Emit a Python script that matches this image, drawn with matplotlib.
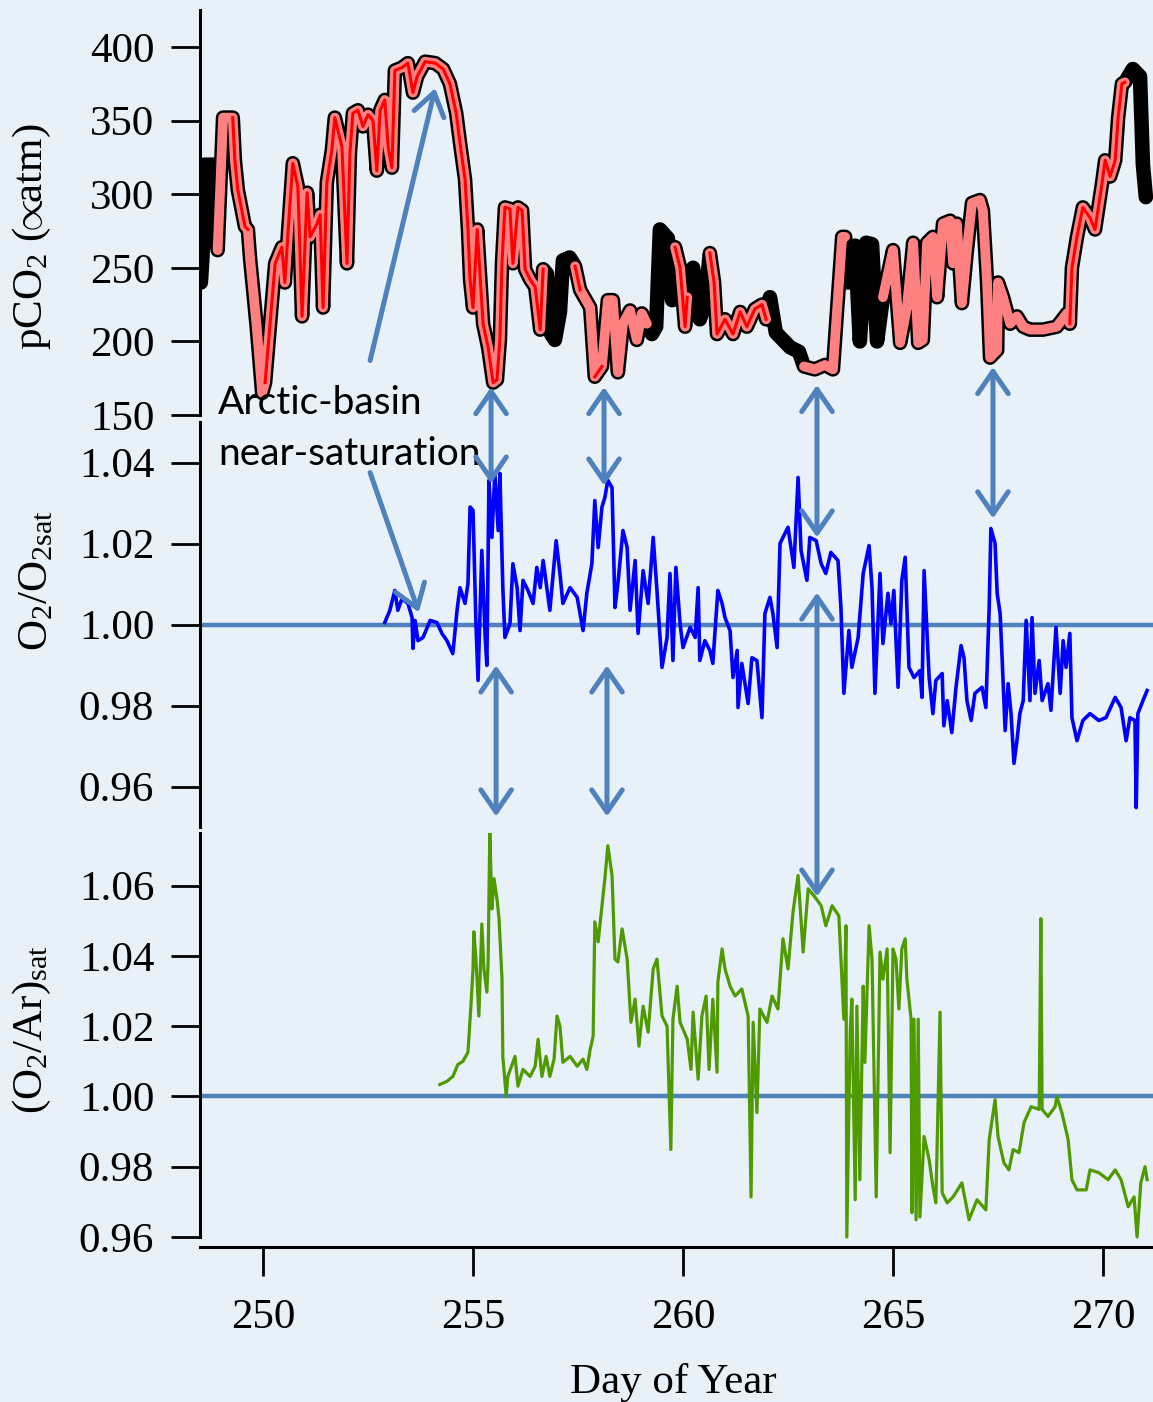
import numpy as np
import matplotlib
matplotlib.use("Agg")
import matplotlib.pyplot as plt
from matplotlib.patches import ConnectionPatch

plt.rcParams["mathtext.fontset"] = "custom"
plt.rcParams["mathtext.rm"] = "Liberation Serif"
plt.rcParams["mathtext.it"] = "Liberation Serif:italic"
plt.rcParams["mathtext.bf"] = "Liberation Serif:bold"

SERIF = ["Liberation Serif", "DejaVu Serif"]
SANS = ["Lato", "DejaVu Sans"]

# ---------------- data ----------------
# underway pCO2 record (uatm) versus day of year
pco2_day = [
    248.52, 248.56, 248.60, 248.88, 248.92, 249.00, 249.05, 249.28, 249.33, 249.40,
    249.57, 249.64, 249.69, 249.85, 249.98, 250.05, 250.29, 250.45, 250.52, 250.60,
    250.71, 250.83, 250.93, 251.05, 251.12, 251.29, 251.36, 251.43, 251.52, 251.64,
    251.71, 251.88, 252.00, 252.07, 252.14, 252.26, 252.38, 252.50, 252.62, 252.71,
    252.79, 252.90, 252.98, 253.07, 253.14, 253.31, 253.45, 253.57, 253.67, 253.86,
    254.10, 254.29, 254.45, 254.60, 254.69, 254.81, 254.88, 254.93, 255.00, 255.10,
    255.17, 255.24, 255.36, 255.48, 255.57, 255.64, 255.69, 255.76, 255.88, 255.95,
    256.07, 256.17, 256.24, 256.36, 256.48, 256.60, 256.67, 256.76, 256.86, 256.95,
    257.07, 257.14, 257.30, 257.43, 257.55, 257.79, 257.90, 258.07, 258.21, 258.33,
    258.45, 258.57, 258.74, 258.90, 259.02, 259.14, 259.26, 259.36, 259.45, 259.64,
    259.74, 259.81, 259.93, 260.05, 260.10, 260.24, 260.40, 260.52, 260.64, 260.74,
    260.81, 261.00, 261.19, 261.36, 261.52, 261.71, 261.88, 261.98, 262.07, 262.21,
    262.55, 262.76, 262.88, 263.14, 263.38, 263.57, 263.69, 263.79, 263.86, 263.93,
    264.10, 264.21, 264.36, 264.50, 264.62, 264.76, 265.00, 265.17, 265.33, 265.48,
    265.60, 265.71, 265.81, 265.95, 266.05, 266.19, 266.36, 266.43, 266.52, 266.64,
    266.76, 266.88, 267.07, 267.14, 267.24, 267.31, 267.48, 267.50, 267.62, 267.79,
    267.95, 268.10, 268.26, 268.57, 268.90, 269.14, 269.21, 269.26, 269.38, 269.52,
    269.69, 269.81, 269.98, 270.05, 270.17, 270.29, 270.36, 270.45, 270.52, 270.71,
    270.88, 270.95, 271.02,
]
pco2_val = [
    240, 258, 320, 320, 262, 318, 352, 352, 323, 303,
    278, 276, 257, 210, 165, 172, 253, 264, 240, 276,
    321, 305, 217, 301, 271, 280, 286, 223, 308, 330,
    352, 332, 253, 328, 355, 357, 346, 354, 350, 316,
    357, 364, 332, 318, 384, 386, 389, 369, 380, 390,
    389, 385, 375, 355, 335, 310, 276, 242, 223, 276,
    244, 212, 196, 172, 174, 201, 253, 291, 290, 253,
    291, 289, 249, 242, 237, 208, 249, 246, 205, 201,
    220, 255, 257, 251, 235, 223, 176, 183, 228, 228,
    179, 212, 221, 201, 219, 212, 205, 210, 276, 270,
    228, 264, 250, 210, 230, 250, 215, 225, 260, 240,
    205, 215, 205, 220, 210, 222, 225, 215, 230, 206,
    196, 193, 183, 181, 184, 181, 230, 271, 271, 240,
    265, 200, 267, 266, 200, 230, 262, 199, 223, 267,
    199, 201, 267, 271, 230, 280, 282, 253, 280, 226,
    262, 294, 296, 289, 240, 189, 194, 240, 230, 212,
    217, 210, 208, 208, 210, 219, 212, 250, 271, 291,
    284, 276, 308, 323, 312, 323, 352, 375, 376, 385,
    380, 320, 298,
]
# day ranges drawn as the light-red and red overlays
pink_spans = [(248.90, 256.70), (257.43, 259.15), (259.80, 260.11), (260.60, 262.00),
              (262.85, 263.87), (264.75, 270.53)]
red_spans = [(249.15, 249.66), (250.00, 256.70), (257.43, 257.60), (257.88, 258.10),
             (259.80, 260.11), (260.60, 262.00), (269.20, 270.53)]

# O2 / O2sat
o2_day = [
    252.90, 253.02, 253.14, 253.21, 253.31, 253.45, 253.55, 253.57, 253.62, 253.69,
    253.81, 253.98, 254.14, 254.26, 254.38, 254.52, 254.62, 254.69, 254.81, 254.88,
    254.93, 255.00, 255.07, 255.12, 255.21, 255.29, 255.33, 255.38, 255.45, 255.52,
    255.60, 255.64, 255.71, 255.76, 255.88, 255.95, 256.05, 256.12, 256.19, 256.31,
    256.43, 256.52, 256.60, 256.67, 256.83, 256.98, 257.07, 257.14, 257.31, 257.48,
    257.62, 257.71, 257.83, 257.90, 257.98, 258.07, 258.14, 258.21, 258.31, 258.38,
    258.45, 258.57, 258.67, 258.74, 258.86, 258.93, 259.05, 259.17, 259.29, 259.38,
    259.50, 259.62, 259.69, 259.76, 259.83, 259.93, 260.00, 260.17, 260.29, 260.36,
    260.40, 260.52, 260.64, 260.71, 260.83, 260.93, 261.00, 261.12, 261.19, 261.29,
    261.31, 261.40, 261.55, 261.64, 261.76, 261.88, 261.95, 262.07, 262.14, 262.24,
    262.31, 262.38, 262.50, 262.64, 262.74, 262.81, 262.95, 263.02, 263.17, 263.29,
    263.40, 263.52, 263.69, 263.76, 263.83, 263.95, 264.02, 264.17, 264.29, 264.43,
    264.50, 264.57, 264.69, 264.76, 264.88, 264.95, 265.02, 265.12, 265.21, 265.29,
    265.38, 265.50, 265.64, 265.69, 265.74, 265.86, 265.95, 266.02, 266.17, 266.21,
    266.29, 266.40, 266.50, 266.62, 266.69, 266.76, 266.86, 266.95, 267.12, 267.21,
    267.29, 267.33, 267.43, 267.48, 267.55, 267.60, 267.67, 267.74, 267.81, 267.88,
    267.95, 268.02, 268.10, 268.17, 268.26, 268.31, 268.38, 268.48, 268.55, 268.69,
    268.76, 268.88, 268.98, 269.05, 269.12, 269.21, 269.26, 269.38, 269.52, 269.69,
    269.90, 270.07, 270.29, 270.43, 270.55, 270.64, 270.76, 270.79, 270.83, 270.95,
    271.05,
]
o2_val = [
    1.0005, 1.0035, 1.0084, 1.0035, 1.0064, 1.0052, 1.0017, 0.9941, 1.0010, 0.9960,
    0.9968, 1.0010, 1.0005, 0.9978, 0.9960, 0.9928, 1.0035, 1.0091, 1.0052, 1.0101,
    1.0290, 1.0282, 1.0002, 0.9862, 1.0183, 0.9968, 0.9899, 1.0356, 1.0215, 1.0373,
    1.0232, 1.0373, 1.0091, 0.9968, 1.0002, 1.0150, 1.0091, 0.9985, 1.0109, 1.0084,
    1.0052, 1.0141, 1.0091, 1.0158, 1.0035, 1.0207, 1.0126, 1.0052, 1.0091, 1.0067,
    0.9985, 1.0077, 1.0150, 1.0306, 1.0190, 1.0290, 1.0314, 1.0356, 1.0338, 1.0042,
    1.0101, 1.0232, 1.0190, 1.0035, 1.0158, 0.9978, 1.0133, 1.0052, 1.0215, 1.0084,
    0.9894, 0.9968, 1.0126, 0.9911, 1.0141, 1.0002, 0.9943, 0.9993, 0.9968, 1.0091,
    0.9911, 0.9960, 0.9936, 0.9904, 1.0084, 1.0052, 1.0017, 0.9985, 0.9869, 0.9936,
    0.9795, 0.9904, 0.9805, 0.9918, 0.9911, 0.9770, 1.0027, 1.0067, 1.0027, 0.9943,
    1.0200, 1.0215, 1.0240, 1.0141, 1.0363, 1.0183, 1.0109, 1.0215, 1.0207, 1.0150,
    1.0126, 1.0178, 1.0158, 1.0042, 0.9830, 0.9985, 0.9894, 0.9968, 1.0126, 1.0195,
    1.0091, 0.9830, 1.0126, 0.9953, 1.0077, 1.0002, 1.0084, 0.9845, 1.0109, 1.0166,
    0.9894, 0.9869, 0.9886, 0.9820, 1.0133, 0.9869, 0.9780, 0.9862, 0.9879, 0.9750,
    0.9812, 0.9733, 0.9845, 0.9948, 0.9918, 0.9812, 0.9763, 0.9830, 0.9845, 0.9795,
    1.0042, 1.0237, 1.0200, 1.0077, 1.0027, 0.9911, 0.9738, 0.9854, 0.9780, 0.9657,
    0.9713, 0.9780, 0.9812, 1.0010, 0.9812, 1.0017, 0.9830, 0.9911, 0.9812, 0.9854,
    0.9788, 0.9993, 0.9830, 0.9960, 0.9894, 0.9978, 0.9770, 0.9713, 0.9763, 0.9780,
    0.9763, 0.9770, 0.9820, 0.9795, 0.9713, 0.9770, 0.9763, 0.9548, 0.9780, 0.9812,
    0.9837,
]

# (O2/Ar) / (O2/Ar)sat
o2ar_day = [
    254.21, 254.38, 254.52, 254.64, 254.76, 254.88, 254.95, 255.00, 255.02, 255.07,
    255.14, 255.21, 255.26, 255.33, 255.36, 255.40, 255.45, 255.50, 255.57, 255.62,
    255.69, 255.71, 255.79, 255.83, 256.00, 256.07, 256.19, 256.36, 256.48, 256.55,
    256.64, 256.74, 256.83, 256.93, 257.00, 257.07, 257.14, 257.31, 257.48, 257.62,
    257.71, 257.79, 257.86, 257.90, 257.98, 258.07, 258.14, 258.21, 258.31, 258.38,
    258.45, 258.55, 258.67, 258.76, 258.86, 258.95, 259.05, 259.17, 259.29, 259.38,
    259.50, 259.62, 259.71, 259.76, 259.86, 259.93, 260.10, 260.19, 260.24, 260.36,
    260.45, 260.55, 260.62, 260.71, 260.81, 260.83, 260.93, 261.00, 261.12, 261.24,
    261.40, 261.55, 261.62, 261.67, 261.76, 261.83, 262.00, 262.12, 262.26, 262.38,
    262.50, 262.62, 262.74, 262.86, 262.98, 263.12, 263.29, 263.40, 263.55, 263.71,
    263.76, 263.83, 263.88, 263.90, 263.98, 264.02, 264.10, 264.14, 264.21, 264.29,
    264.33, 264.43, 264.50, 264.60, 264.69, 264.76, 264.86, 264.93, 265.00, 265.07,
    265.14, 265.21, 265.29, 265.33, 265.43, 265.45, 265.50, 265.55, 265.60, 265.64,
    265.74, 265.86, 265.95, 266.02, 266.12, 266.17, 266.29, 266.43, 266.64, 266.81,
    267.00, 267.21, 267.29, 267.43, 267.50, 267.64, 267.76, 267.86, 268.00, 268.12,
    268.29, 268.48, 268.52, 268.55, 268.69, 268.86, 268.90, 269.02, 269.17, 269.26,
    269.38, 269.60, 269.69, 269.90, 270.12, 270.29, 270.43, 270.60, 270.74, 270.81,
    270.90, 271.00, 271.05,
]
o2ar_val = [
    1.0034, 1.0043, 1.0057, 1.0091, 1.0100, 1.0126, 1.0257, 1.0363, 1.0469, 1.0391,
    1.0229, 1.0491, 1.0363, 1.0297, 1.0383, 1.0754, 1.0534, 1.0620, 1.0563, 1.0506,
    1.0334, 1.0114, 1.0000, 1.0057, 1.0114, 1.0029, 1.0077, 1.0057, 1.0086, 1.0163,
    1.0057, 1.0114, 1.0057, 1.0106, 1.0229, 1.0200, 1.0097, 1.0114, 1.0086, 1.0106,
    1.0077, 1.0134, 1.0171, 1.0497, 1.0440, 1.0543, 1.0620, 1.0714, 1.0629, 1.0391,
    1.0383, 1.0477, 1.0391, 1.0211, 1.0277, 1.0143, 1.0257, 1.0183, 1.0363, 1.0391,
    1.0229, 1.0200, 0.9849, 1.0220, 1.0314, 1.0211, 1.0163, 1.0077, 1.0240, 1.0049,
    1.0229, 1.0286, 1.0077, 1.0277, 1.0069, 1.0326, 1.0420, 1.0363, 1.0314, 1.0286,
    1.0306, 1.0229, 0.9714, 1.0211, 0.9954, 1.0249, 1.0211, 1.0286, 1.0249, 1.0449,
    1.0363, 1.0526, 1.0629, 1.0411, 1.0591, 1.0571, 1.0543, 1.0486, 1.0543, 1.0514,
    1.0391, 1.0220, 1.0486, 0.9600, 1.0183, 1.0277, 0.9706, 1.0257, 0.9763, 1.0314,
    1.0097, 1.0486, 1.0391, 0.9714, 1.0411, 1.0334, 1.0420, 0.9840, 1.0420, 1.0391,
    1.0249, 1.0420, 1.0449, 1.0334, 1.0220, 0.9669, 1.0220, 0.9649, 1.0220, 0.9657,
    0.9886, 0.9820, 0.9743, 0.9697, 1.0240, 0.9726, 0.9697, 0.9714, 0.9754, 0.9649,
    0.9706, 0.9677, 0.9877, 0.9991, 0.9886, 0.9811, 0.9791, 0.9849, 0.9840, 0.9926,
    0.9971, 0.9963, 1.0506, 0.9963, 0.9943, 0.9971, 1.0000, 0.9954, 0.9877, 0.9763,
    0.9734, 0.9734, 0.9791, 0.9783, 0.9763, 0.9791, 0.9763, 0.9686, 0.9714, 0.9600,
    0.9754, 0.9800, 0.9763,
]

pco2_ticks = [150, 200, 250, 300, 350, 400]
o2_ticks = [0.96, 0.98, 1.00, 1.02, 1.04]
o2ar_ticks = [0.96, 0.98, 1.00, 1.02, 1.04, 1.06]
day_ticks = [250, 255, 260, 265, 270]

# ---------------- figure ----------------
BG = "#e8f0f8"
ARROW = "#4f81bd"
FS = 31
W, H = 1153, 1402
fig = plt.figure(figsize=(W / 100, H / 100), dpi=100, facecolor=BG)


def panel(y_top, y_bot):
    return fig.add_axes([200 / W, 1 - y_bot / H, (W - 200) / W, (y_bot - y_top) / H])


ax1 = panel(10, 415)
ax2 = panel(422, 827)
ax3 = panel(833, 1247)

xlim = (248.5, 271.19)
for ax in (ax1, ax2, ax3):
    ax.set_facecolor("none")
    ax.set_xlim(*xlim)
    for s in ("top", "right"):
        ax.spines[s].set_visible(False)
    ax.spines["left"].set_linewidth(2.2)
    ax.tick_params(axis="y", direction="out", length=21, width=2.0, pad=12)

for ax in (ax1, ax2):
    ax.spines["bottom"].set_visible(False)
    ax.tick_params(axis="x", bottom=False, labelbottom=False)


def spans_only(days, vals, spans):
    d = np.asarray(days)
    v = np.asarray(vals, dtype=float)
    keep = np.zeros(d.shape, dtype=bool)
    for a, b in spans:
        keep |= (d >= a) & (d <= b)
    return np.where(keep, v, np.nan)


# pCO2 panel
thick = dict(solid_joinstyle="round", solid_capstyle="round")
ax1.plot(pco2_day, pco2_val, color="black", lw=10.5, zorder=2, **thick)
ax1.plot(pco2_day, spans_only(pco2_day, pco2_val, pink_spans), color="#ff8080",
         lw=7.0, zorder=3, **thick)
ax1.plot(pco2_day, spans_only(pco2_day, pco2_val, red_spans), color="#ff0000",
         lw=2.2, zorder=4)
ax1.set_ylim(150, 425.1)
ax1.set_yticks(pco2_ticks)
ax1.set_yticklabels([str(t) for t in pco2_ticks], family=SERIF, fontsize=FS)

# O2/O2sat panel
ax2.axhline(1.0, color=ARROW, lw=3.2, zorder=1)
ax2.plot(o2_day, o2_val, color="#0000ff", lw=2.6, zorder=3)
ax2.set_ylim(0.95, 1.05)
ax2.set_yticks(o2_ticks)
ax2.set_yticklabels([f"{t:.2f}" for t in o2_ticks], family=SERIF, fontsize=FS)

# (O2/Ar)sat panel
ax3.axhline(1.0, color=ARROW, lw=3.2, zorder=1)
ax3.plot(o2ar_day, o2ar_val, color="#4f9a00", lw=2.3, zorder=3)
ax3.set_ylim(0.95714, 1.075)
ax3.spines["left"].set_bounds(0.96, 1.075)
ax3.set_yticks(o2ar_ticks)
ax3.set_yticklabels([f"{t:.2f}" for t in o2ar_ticks], family=SERIF, fontsize=FS)
ax3.spines["bottom"].set_linewidth(2.2)
ax3.set_xticks(day_ticks)
ax3.set_xticklabels([str(t) for t in day_ticks], family=SERIF, fontsize=FS)
ax3.tick_params(axis="x", direction="out", length=21, width=2.0, pad=16)

# axis titles
fig.text(32 / W, 1 - 237 / H, r"pCO$_2$ ($\!\!\propto\!\!$atm)", rotation=90,
         ha="center", va="center", family=SERIF, fontsize=FS)
fig.text(37 / W, 1 - 580 / H, r"O$_2$/O$_{\mathrm{2sat}}$", rotation=90,
         ha="center", va="center", family=SERIF, fontsize=FS)
fig.text(32 / W, 1 - 1030 / H, r"(O$_2$/Ar)$_{\mathrm{sat}}$", rotation=90,
         ha="center", va="center", family=SERIF, fontsize=FS)
fig.text(673 / W, 1 - 1383 / H, "Day of Year", ha="center", va="center",
         family=SERIF, fontsize=FS)

# annotation text
fig.text(218 / W, 1 - 414 / H, "Arctic-basin", ha="left", va="baseline",
         family=SANS, fontsize=28)
fig.text(218 / W, 1 - 465 / H, "near-saturation", ha="left", va="baseline",
         family=SANS, fontsize=28)

astyle = "->,head_length=0.8,head_width=0.55"
dstyle = "<->,head_length=0.8,head_width=0.55"
akw = dict(color=ARROW, lw=3.6, mutation_scale=20, shrinkA=0, shrinkB=0)

ax1.annotate("", xy=(254.10, 372), xytext=(252.55, 187),
             arrowprops=dict(arrowstyle=astyle, **akw), annotation_clip=False)
ax2.annotate("", xy=(253.71, 1.003), xytext=(252.55, 1.0375),
             arrowprops=dict(arrowstyle=astyle, **akw), annotation_clip=False)

# double arrows linking pCO2 minima to O2 maxima
links_top_mid = [(255.43, 169, 1.0348), (258.12, 169, 1.0343),
                 (263.19, 170.4, 1.0215), (267.38, 182.6, 1.0262)]
for d, ytop, ymid in links_top_mid:
    cp = ConnectionPatch(xyA=(d, ytop), coordsA=ax1.transData,
                         xyB=(d, ymid), coordsB=ax2.transData,
                         arrowstyle=dstyle, **akw)
    cp.set_zorder(10)
    fig.add_artist(cp)

links_mid_bot = [(255.55, 0.9899, 1.0797), (258.19, 0.9899, 1.0797),
                 (263.19, 1.0079, 1.0569)]
for d, ymid, ybot in links_mid_bot:
    cp = ConnectionPatch(xyA=(d, ymid), coordsA=ax2.transData,
                         xyB=(d, ybot), coordsB=ax3.transData,
                         arrowstyle=dstyle, **akw)
    cp.set_zorder(10)
    fig.add_artist(cp)

fig.savefig("out.png", dpi=100, facecolor=BG)
